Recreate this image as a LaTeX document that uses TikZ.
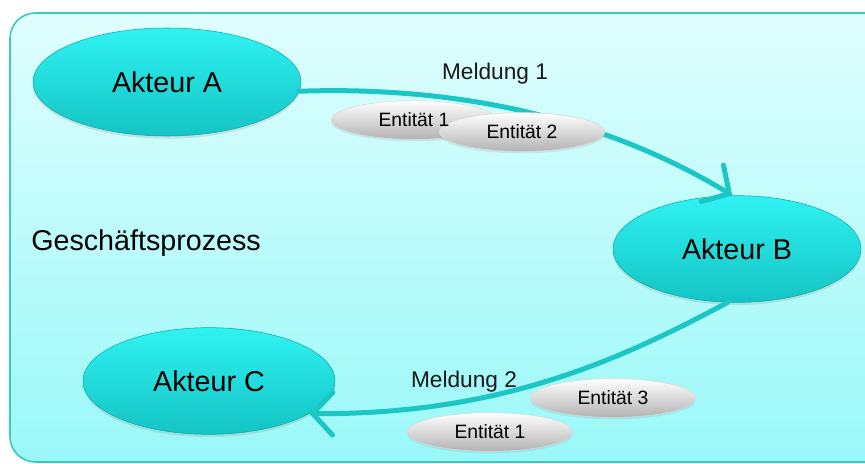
\documentclass[tikz,border=0pt]{standalone}
\usepackage{fontspec}
\setmainfont{Liberation Sans}
\usepackage{xcolor}
\usetikzlibrary{shapes.geometric,arrows.meta,positioning,shadows}
\definecolor{rahmen}{HTML}{3EC8C2}
\definecolor{hgoben}{HTML}{E0FEFE}
\definecolor{hgunten}{HTML}{9AF8F8}
\definecolor{akteuroben}{HTML}{30F2F2}
\definecolor{akteurunten}{HTML}{14C4C4}
\definecolor{pfeil}{HTML}{1CC6C4}

\begin{document}
\begin{tikzpicture}[
  x=0.75pt,y=-0.75pt,
  akteur/.style={ellipse,draw=akteurunten!85!black,top color=akteuroben,bottom color=akteurunten,inner sep=0pt,minimum height=80pt,font=\fontsize{21.5}{25}\selectfont,drop shadow={opacity=0.2,shadow xshift=0pt,shadow yshift=-2pt}},
  entitaet/.style={ellipse,draw=black!15,top color=white,middle color=black!4,bottom color=black!30,inner sep=0pt,minimum width=124pt,minimum height=29pt,font=\fontsize{14.5}{17}\selectfont,drop shadow={opacity=0.15,shadow xshift=0pt,shadow yshift=-1.5pt}},
  enttext/.style={font=\fontsize{14.5}{17}\selectfont},
  meld/.style={font=\fontsize{17}{20}\selectfont,text=black!90},
  arr/.style={-{Straight Barb[length=15pt,width=32pt,line cap=round]},line width=3.75pt,draw=pfeil,line cap=round}
]
\useasboundingbox (0,0) rectangle (865,464);
\draw[rahmen,line width=1.2pt,rounded corners=19pt,top color=hgoben,bottom color=hgunten] (10,13) rectangle (890,462);

\node[akteur,minimum width=201pt,minimum height=81pt] (akteurA) at (167,82) {Akteur A};
\node[akteur,minimum width=186pt] (akteurB) at (737,249) {Akteur B};
\node[akteur,minimum width=189pt] (akteurC) at (209,381) {Akteur C};
\node[font=\fontsize{21.5}{25}\selectfont] (prozess) at (146,243) {Geschäftsprozess};

\draw[arr] (akteurA.-4) .. controls (450,86) and (600,115) .. (akteurB.95);
\draw[arr] (akteurB.-100) .. controls (620,360) and (500,415) .. (akteurC.-18);

\node[meld] (meld1) at (495,74) {Meldung 1};
\node[meld] (meld2) at (464,382) {Meldung 2};
\node[entitaet] (ent1a) at (414,120) {};
\node[entitaet] (ent2) at (522,132) {Entität 2};
\node[enttext] (ent1atext) at (ent1a) {Entität 1};
\node[entitaet] (ent3) at (613,398) {Entität 3};
\node[entitaet] (ent1b) at (490,432) {Entität 1};
\end{tikzpicture}
\end{document}
